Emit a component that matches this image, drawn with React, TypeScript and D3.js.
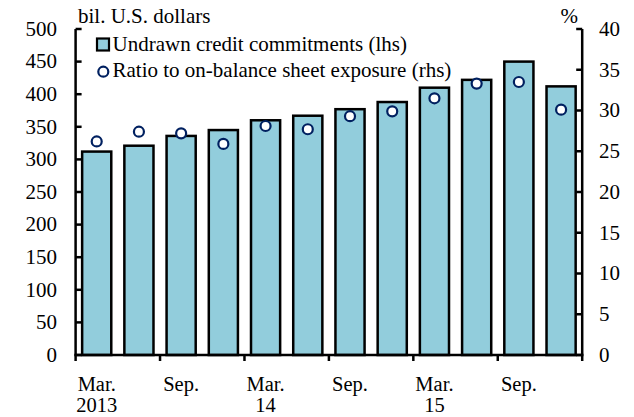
import React from "react";
import * as d3 from "d3";

const quarters = ["2013Q1","2013Q2","2013Q3","2013Q4","2014Q1","2014Q2","2014Q3","2014Q4","2015Q1","2015Q2","2015Q3","2015Q4"];
const undrawn = [312, 321, 336, 345, 360, 367, 377, 388, 410, 422, 450, 412];
const ratio = [26.2, 27.4, 27.2, 25.9, 28.1, 27.7, 29.3, 29.9, 31.5, 33.3, 33.5, 30.1];
const leftTicks = [0, 50, 100, 150, 200, 250, 300, 350, 400, 450, 500];
const rightTicks = [0, 5, 10, 15, 20, 25, 30, 35, 40];
const xLabels: { idx: number; line1: string; line2: string }[] = [
  { idx: 0, line1: "Mar.", line2: "2013" },
  { idx: 2, line1: "Sep.", line2: "" },
  { idx: 4, line1: "Mar.", line2: "14" },
  { idx: 6, line1: "Sep.", line2: "" },
  { idx: 8, line1: "Mar.", line2: "15" },
  { idx: 10, line1: "Sep.", line2: "" },
];
const seriesNames = ["Undrawn credit commitments (lhs)", "Ratio to on-balance sheet exposure (rhs)"];

function T(props: any) {
  const { children, size, ...rest } = props;
  return (
    <text fontSize={size || 21} style={{ fontFamily: "Liberation Serif" }} {...rest}>{children}</text>
  );
}

export default function App() {
  const W = 634, H = 417;
  const x0 = 75.6, x1 = 582.2, y0 = 355, y1 = 29;
  const x = d3.scaleBand<string>().domain(quarters).range([x0, x1]).paddingInner(0.31).paddingOuter(0.155);
  const xb = d3.scaleBand<string>().domain(quarters).range([x0, x1]);
  const yL = d3.scaleLinear().domain([0, 500]).range([y0, y1]);
  const yR = d3.scaleLinear().domain([0, 40]).range([y0, y1]);
  const tickX = d3.range(0, quarters.length + 1, 2).map((i) => x0 + i * xb.bandwidth());
  return (
    <svg width={W} height={H} style={{ position: "absolute", left: 0, top: 0 }}>
      {quarters.map((q, i) => (
        <rect key={q} x={x(q)} y={yL(undrawn[i])} width={x.bandwidth()} height={y0 - yL(undrawn[i])}
          fill="#92CDDC" stroke="#000" strokeWidth={2.5} />
      ))}
      {quarters.map((q, i) => (
        <circle key={"c" + q} cx={(x(q) as number) + x.bandwidth() / 2} cy={yR(ratio[i])} r={5}
          fill="#fff" stroke="#002060" strokeWidth={2.2} />
      ))}
      <line x1={x0} x2={x0} y1={y1} y2={y0} stroke="#000" strokeWidth={2.5} />
      <line x1={x1} x2={x1} y1={y1} y2={y0} stroke="#000" strokeWidth={2.5} />
      <line x1={x0 - 1.25} x2={x1 + 1.25} y1={y0} y2={y0} stroke="#000" strokeWidth={2.5} />
      {leftTicks.map((t) => (
        <g key={"l" + t}>
          <line x1={x0} x2={x0 + 6} y1={yL(t)} y2={yL(t)} stroke="#000" strokeWidth={2.5} />
          <T x={57} y={yL(t) + 6.8} textAnchor="end">{t}</T>
        </g>
      ))}
      {rightTicks.map((t) => (
        <g key={"r" + t}>
          <line x1={x1 - 6} x2={x1} y1={yR(t)} y2={yR(t)} stroke="#000" strokeWidth={2.5} />
          <T x={599} y={yR(t) + 6.8}>{t}</T>
        </g>
      ))}
      {tickX.map((tx, i) => (
        <line key={"bt" + i} x1={tx} x2={tx} y1={y0} y2={y0 + 6} stroke="#000" strokeWidth={2.5} />
      ))}
      {xLabels.map((l) => {
        const cx = (xb(quarters[l.idx]) as number) + xb.bandwidth() / 2;
        return (
          <g key={"xl" + l.idx}>
            <T x={cx} y={390.5} textAnchor="middle" size={20.5}>{l.line1}</T>
            {l.line2 && <T x={cx} y={412.3} textAnchor="middle" size={20.5}>{l.line2}</T>}
          </g>
        );
      })}
      <T x={78} y={23}>bil. U.S. dollars</T>
      <T x={578} y={23} textAnchor="end">%</T>
      <rect x={97} y={38.5} width={12} height={12} fill="#92CDDC" stroke="#000" strokeWidth={2.2} />
      <T x={112.5} y={50.7}>{seriesNames[0]}</T>
      <circle cx={103.3} cy={71.7} r={5} fill="#fff" stroke="#002060" strokeWidth={2.2} />
      <T x={112.5} y={77.3}>{seriesNames[1]}</T>
    </svg>
  );
}
